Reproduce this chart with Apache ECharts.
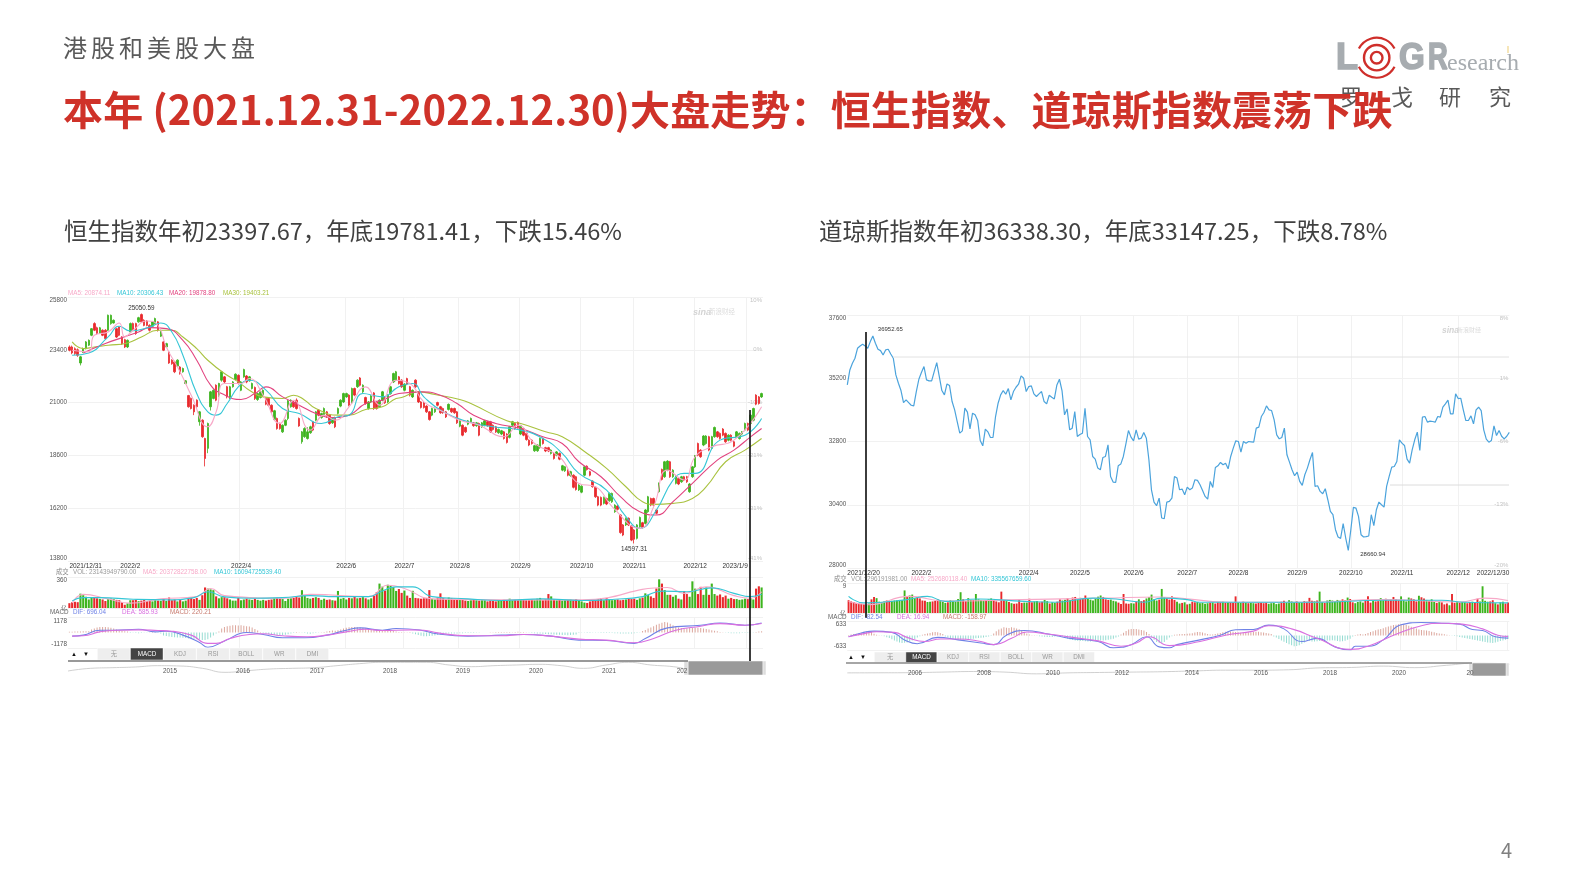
<!DOCTYPE html>
<html>
<head>
<meta charset="utf-8">
<script src="https://cdn.jsdelivr.net/npm/echarts@6/dist/echarts.min.js"></script>
<style>
html,body{margin:0;padding:0;background:#fff;}
#main{position:absolute;left:0;top:0;width:1587px;height:892px;filter:blur(0.3px);}
.t{position:absolute;white-space:nowrap;font-family:"Noto Sans CJK SC","Noto Sans",sans-serif;}
</style>
</head>
<body>
<div id="main"></div>
<div class="t" style="left:1340px;top:81px;line-height:28px;font-size:22px;color:#595959;">罗</div>
<div class="t" style="left:1391px;top:81px;line-height:28px;font-size:22px;color:#595959;">戈</div>
<div class="t" style="left:1439px;top:81px;line-height:28px;font-size:22px;color:#595959;">研</div>
<div class="t" style="left:1489px;top:81px;line-height:28px;font-size:22px;color:#595959;">究</div>
<div class="t" style="left:63px;top:29px;line-height:36px;font-size:24px;letter-spacing:4px;color:#595959;">港股和美股大盘</div>
<div class="t" style="left:63px;top:82px;line-height:52px;font-size:40px;letter-spacing:0.13px;font-weight:700;color:#cf3229;">本年 (2021.12.31-2022.12.30)大盘走势：恒生指数、道琼斯指数震荡下跌</div>
<div class="t" style="left:64px;top:213px;line-height:34px;font-size:23.5px;color:#404040;">恒生指数年初23397.67，年底19781.41，下跌15.46%</div>
<div class="t" style="left:819px;top:213px;line-height:34px;font-size:23.5px;color:#404040;">道琼斯指数年初36338.30，年底33147.25，下跌8.78%</div>
<div class="t" style="left:1501px;top:836px;line-height:28px;font-size:20px;color:#808080;">4</div>
<script>
// 恒生指数 日K [open, close, low, high]
var leftCandles = [
[23530,23380,23330,23600],[23530,23260,23200,23590],[23450,23230,23170,23510],[23400,23150,23080,23460],[22800,23080,22690,23120],
[23300,23450,23260,23500],[23450,23760,23420,23800],[23610,23830,23570,23870],[24060,24360,24020,24390],[24590,24290,24250,24650],
[24400,24140,24080,24450],[24170,24400,24130,24440],[24290,24060,24020,24330],[24290,23910,23860,24340],[24290,24970,24250,25000],
[24590,24970,24540,25000],[24620,24740,24590,24780],[24360,23980,23940,24400],[24440,24060,24020,24480],[23980,23680,23620,24020],
[23860,23530,23480,23900],[23530,23830,23480,23870],[24210,24590,24160,24640],[24590,24320,24260,24640],[24590,24140,24080,24630],
[24670,24860,24630,24900],[25000,24670,24620,25050],[24740,24510,24470,24790],[24710,24510,24470,24750],[24510,24290,24230,24560],
[24470,24670,24440,24710],[24590,24820,24560,24860],[24670,24290,24230,24700],[24020,24210,23980,24250],[23760,23380,23340,23800],
[23530,23680,23490,23720],[23300,22800,22760,23340],[22930,22770,22720,22970],[22850,22400,22340,22900],[22660,22930,22620,22970],
[22620,22320,22270,22660],[22400,22550,22360,22590],[21870,21990,21840,22020],[21320,20810,20770,21350],[21190,20730,20690,21230],
[20880,20580,20430,20920],[21110,20810,20760,21150],[20130,20580,19950,20620],[20200,19450,19400,20240],[19370,18460,18100,19400],
[18920,20050,18700,20090],[20810,21490,20640,21530],[21190,21560,21150,21600],[21790,21110,21060,21830],[21340,21870,21250,21900],
[22020,22400,21950,22440],[22170,21940,21890,22210],[21720,21260,21190,21760],[21260,21720,21150,21760],[21720,21940,21680,21980],
[22050,22290,22010,22330],[22240,21870,21820,22280],[21560,21940,21520,21980],[22170,22500,22130,22540],[22210,21940,21880,22250],
[21990,22170,21950,22210],[21640,21870,21600,21910],[21690,21190,21120,21730],[21140,21410,21080,21450],[21230,21490,21190,21530],
[21340,21560,21290,21600],[21190,20930,20880,21230],[21190,20880,20830,21230],[20880,20580,20530,20920],[20230,20630,20180,20670],
[20280,19820,19770,20320],[20050,19820,19770,20090],[19670,19970,19620,20010],[19970,20200,19930,20240],[20280,21080,20200,21120],
[20810,21110,20770,21150],[21030,20810,20760,21070],[21110,20730,20680,21190],[20280,19940,19900,20320],[19220,19670,19130,19710],
[19450,19820,19400,19880],[19370,19670,19320,19880],[19630,19900,19580,19950],[20130,19750,19700,20170],[20200,20580,20150,20620],
[20660,20430,20380,20700],[20320,20500,20270,20540],[20430,20730,20380,20780],[20580,20350,20300,20620],[20430,20050,19990,20470],
[20080,20280,20030,20320],[20320,19900,19840,20360],[20510,20730,20460,20780],[20840,21110,20790,21150],[21030,21410,20980,21450],
[21260,21410,21220,21450],[21340,20880,20830,21380],[20990,21640,20950,21680],[21640,21340,21290,21680],[21720,22020,21670,22060],
[22120,21790,21740,22160],[21490,21790,21440,21830],[21230,20960,20900,21270],[20730,21030,20680,21070],[21030,21300,20980,21340],
[21440,20730,20670,21480],[21030,20730,20680,21070],[20810,21110,20760,21150],[21110,21490,21060,21530],[21230,20990,20940,21270],
[21030,21340,20980,21380],[21410,21720,21360,21760],[21940,22320,21890,22360],[22020,22400,21970,22440],[22170,21870,21820,22210],
[22020,21720,21670,22060],[21560,21840,21510,21880],[22090,21840,21790,22130],[21720,21340,21280,21760],[21260,21560,21210,21600],
[22020,21720,21670,22060],[21490,21030,20980,21530],[21030,20780,20730,21070],[20990,20780,20730,21030],[20840,20580,20530,20880],
[20580,20230,20180,20620],[20430,20730,20380,20770],[20580,20730,20530,20770],[21000,20880,20830,21040],[20810,20540,20490,20850],
[20730,20540,20490,20770],[20580,20350,20300,20620],[20690,20920,20640,20960],[20730,20580,20530,20770],[20730,20540,20490,20770],
[20580,20080,20030,20620],[19930,20200,19880,20240],[19970,19520,19470,20010],[19870,19670,19620,19910],[20020,20170,19970,20210],
[20130,20280,20080,20320],[20080,19950,19900,20120],[19950,20080,19900,20120],[20050,19520,19470,20090],[19900,20080,19850,20120],
[19970,20170,19920,20210],[20130,19950,19900,20170],[20130,19670,19620,20170],[19970,19780,19730,20010],[19900,19670,19620,19940],
[19630,19780,19580,19820],[19570,19720,19520,19760],[19670,19370,19320,19710],[19570,19190,19140,19610],[19420,19900,19370,19940],
[19970,20130,19920,20170],[20050,19820,19770,20090],[20100,19870,19820,20140],[19570,19950,19520,19990],[19820,19520,19470,19860],
[19600,19320,19270,19640],[19290,19070,19020,19330],[19290,19140,19090,19330],[18810,19040,18760,19080],[18810,19070,18760,19110],
[18950,19370,18900,19410],[19370,19140,19090,19410],[18950,18800,18750,18990],[18950,18800,18750,18990],[18690,18840,18640,18880],
[18690,18460,18410,18730],[18610,18760,18560,18800],[18690,18430,18380,18730],[17930,18130,17880,18170],[17900,18080,17850,18120],
[17930,17700,17650,17970],[17680,17860,17630,17900],[17700,17150,17100,17740],[17630,17050,17000,17670],[17030,17250,16980,17290],
[16930,17200,16880,17240],[17700,18080,17650,18120],[18110,17960,17910,18150],[17860,17700,17650,17900],[17430,17180,17130,17470],
[17150,16720,16670,17190],[16720,16340,16290,16760],[16690,16340,16290,16730],[16420,16690,16370,16730],[16640,16390,16340,16680],
[16540,16870,16490,16910],[16490,16870,16440,16910],[16040,16340,15990,16380],[16300,16150,16100,16340],[15890,15090,15040,15930],
[15440,14980,14930,15480],[15440,15740,15390,15780],[15740,15440,15390,15780],[15390,14750,14700,15430],[15210,14790,14597,15250],
[14830,15440,14780,15480],[15360,15780,15310,15820],[15540,15330,15280,15580],[15510,16120,15460,16160],[16040,16720,15990,16760],
[16640,16340,16290,16680],[16640,16340,16290,16680],[16120,15970,15920,16160],[16950,17330,16900,17370],[17960,17510,17460,18000],
[17630,18310,17580,18350],[17930,18340,17880,18380],[18310,17630,17580,18350],[17630,17930,17580,17970],[17330,17660,17280,17700],
[17550,17300,17250,17590],[17400,17630,17350,17670],[17630,17480,17430,17670],[17630,17400,17350,17670],[16950,17300,16900,17340],
[17630,18080,17580,18120],[18080,18580,18030,18620],[19140,18610,18560,19180],[18840,18540,18490,18880],[19070,19480,19020,19520],
[19140,19480,19090,19520],[19450,18840,18790,19490],[18920,19450,18870,19490],[19450,19870,19400,19910],[19670,19450,19400,19710],
[19600,19370,19320,19640],[19800,19520,19470,19840],[19600,19220,19170,19640],[19290,19520,19240,19560],[19520,19290,19240,19560],
[19220,19020,18970,19260],[19450,19670,19400,19710],[19370,19600,19320,19640],[19570,19670,19520,19710],[19750,20050,19700,20090],
[20050,19750,19700,20090],[20050,20430,20000,20470],[20200,20730,20150,20770],[21340,20930,20880,21380],[21260,20960,20910,21300],
[21260,21410,21210,21450]
];
// 均线 [日序号, 值]
var leftMa5 = [[1,23379],[7,23304],[9,24060],[14,24211],[18,24620],[20,23984],[23,24287],[28,24711],[32,24514],[35,23530],[40,22396],[44,21337],[50,19899],[53,20580],[56,21866],[62,21866],[65,22093],[70,21337],[76,20051],[81,21110],[87,19748],[92,20429],[96,20202],[101,20807],[107,21715],[112,20883],[118,22018],[123,21866],[128,21034],[135,20580],[141,20202],[148,19975],[157,19445],[162,19975],[168,19143],[177,18538],[184,17327],[190,17176],[196,16268],[206,15285],[211,16268],[216,17932],[222,17479],[226,18538],[232,18992],[240,19294],[250,20807]];
var leftMa10 = [[1,23152],[7,23258],[14,23984],[18,24469],[22,24257],[29,24438],[33,24620],[37,24211],[41,23152],[46,21412],[50,20580],[53,20429],[57,20958],[61,21715],[65,22018],[71,21564],[77,20731],[83,20505],[91,20051],[97,20353],[101,20429],[106,21412],[113,21261],[119,21715],[124,21866],[128,21261],[135,20580],[144,20126],[153,19899],[162,19778],[171,19370],[178,18689],[184,17781],[194,17025],[201,15814],[206,15285],[212,16117],[218,17479],[222,17781],[226,17781],[235,19294],[244,19521],[250,20278]];
var leftMa20 = [[5,23258],[13,23682],[19,23954],[25,24211],[29,24408],[35,24363],[41,23833],[46,22925],[51,21791],[55,21412],[62,21140],[67,21412],[71,21715],[77,21261],[83,20883],[89,20505],[95,20323],[101,20429],[107,20958],[113,21110],[119,21412],[127,21488],[134,21337],[140,20958],[146,20429],[154,20051],[163,19824],[171,19445],[178,19143],[184,18311],[192,17630],[199,16722],[206,16041],[212,15890],[218,16495],[225,17327],[234,18386],[240,18840],[246,19445],[250,19824]];
var leftMa30 = [[1,23757],[5,23455],[9,23530],[14,23606],[21,23712],[26,23984],[32,24287],[37,24287],[41,23984],[46,23455],[50,22925],[56,22320],[61,21942],[65,21564],[70,21261],[77,21185],[81,21337],[85,21110],[89,20731],[97,20429],[101,20429],[107,20686],[113,20807],[118,21185],[120,21231],[126,21488],[132,21367],[141,21140],[145,20958],[158,20172],[163,20051],[172,19672],[178,19445],[187,18689],[194,18008],[201,17176],[207,16495],[211,16374],[218,16419],[225,16646],[230,17176],[237,18311],[244,18840],[250,19370]];
// 成交量(亿)
var leftVolume = [62,75,80,75,185,165,145,110,140,130,125,118,110,90,115,122,115,105,100,75,42,60,100,100,105,88,95,105,90,95,85,100,95,92,120,90,135,100,110,85,105,85,95,120,130,115,130,105,165,265,250,240,230,150,125,140,140,125,110,95,95,130,100,110,120,110,105,120,105,95,105,95,105,110,130,130,120,115,90,120,125,130,145,135,230,160,130,120,130,140,130,105,120,105,110,100,95,220,120,130,110,130,125,150,125,130,140,125,110,125,155,205,315,275,225,300,285,270,220,245,195,225,160,130,222,130,125,120,125,130,231,120,110,135,189,130,110,135,125,120,115,110,105,95,90,100,105,100,95,100,100,85,95,90,85,100,95,105,95,120,100,105,100,105,110,100,100,110,100,120,130,100,115,180,150,115,100,105,95,100,105,110,100,115,100,85,70,65,85,90,110,115,125,100,130,115,100,105,110,100,105,110,120,115,120,105,125,135,189,170,150,130,252,370,315,231,170,170,145,165,120,110,218,180,145,344,250,180,273,170,265,170,315,180,160,175,140,160,120,130,115,115,105,110,120,115,130,110,250,280,265];
var leftVolMa5 = [[1,63],[5,176],[14,118],[22,63],[33,118],[46,147],[51,252],[56,160],[78,126],[87,176],[108,147],[115,294],[121,252],[131,118],[156,105],[185,105],[216,265],[222,189],[230,273],[240,160],[246,126],[250,210]];
var leftVolMa10 = [[1,92],[5,134],[11,134],[23,113],[35,105],[45,134],[50,210],[56,143],[65,126],[77,134],[87,160],[96,147],[108,147],[113,218],[118,273],[124,273],[131,147],[144,118],[156,97],[171,118],[185,97],[197,113],[207,147],[214,218],[223,210],[232,260],[240,189],[246,147],[250,176]];
// MACD
var leftDif = [[1,-371],[5,-270],[11,236],[16,236],[25,337],[31,67],[35,135],[41,-270],[47,-1011],[50,-1500],[56,-876],[64,0],[70,-202],[77,-539],[85,-539],[93,-270],[100,236],[105,472],[113,236],[118,404],[127,236],[132,-101],[144,-371],[156,-270],[164,-202],[174,-371],[184,-775],[194,-809],[204,-1112],[208,-607],[216,472],[228,741],[235,977],[244,741],[250,977]];
var leftDea = [[1,-371],[5,-337],[11,67],[17,236],[25,270],[32,202],[37,135],[44,-270],[50,-1112],[53,-1112],[58,-607],[65,-202],[70,-135],[77,-337],[86,-438],[93,-270],[100,67],[107,337],[113,202],[123,270],[128,236],[133,-34],[144,-337],[156,-337],[164,-202],[174,-371],[184,-674],[194,-775],[204,-1045],[211,-607],[219,236],[228,640],[235,910],[244,741],[250,910]];
var leftHist = [70,80,90,100,110,120,130,140,300,400,500,550,570,560,540,480,420,300,200,150,120,100,-40,-30,-60,-80,-50,-30,-20,30,40,20,-60,-100,-300,-350,-400,-450,-480,-500,-520,-540,-560,-600,-620,-650,-680,-720,-770,-775,-700,-500,-300,-100,100,400,550,640,700,740,730,720,740,700,650,600,500,350,200,60,-50,-120,-180,-220,-260,-270,-260,-250,-220,-180,-100,-60,50,30,-30,-60,-100,-120,-80,-50,-20,30,60,90,150,200,180,240,300,400,480,540,570,560,540,520,480,430,400,350,300,280,250,220,250,200,180,150,100,60,40,20,30,40,-100,-180,-260,-330,-370,-370,-350,-330,-300,-260,-200,-160,-130,-110,-100,-90,-90,-80,-70,-60,-60,-50,-40,-30,-20,-10,-10,10,20,30,40,50,60,60,50,40,20,50,70,60,40,20,-30,-50,-70,-90,-110,-130,-150,-170,-190,-210,-230,-240,-250,-260,-270,-260,-240,-200,-60,-30,-20,-50,-40,-30,-20,-30,-50,-60,-50,-40,-60,-70,-80,-90,-100,-110,-100,-90,-70,-40,-20,150,250,400,520,650,780,900,1000,1080,1020,900,750,620,520,450,420,430,450,470,480,480,450,400,350,300,240,180,120,60,30,-30,-50,-70,-70,-80,-70,-60,-50,-40,-30,-20,60,100,130];
var leftNav = [22340,25310,26060,26800,28290,27920,25310,20850,22710,24570,25310,26060,28290,30520,32010,32010,32010,29040,27180,28290,29040,29780,28290,25310,29040,32010,29040,27180,23460,25310,20850,21600];
var leftTickIdx = [0,22,62,100,121,141,163,185,204,226,245];
var leftTickText = ['2021/12/31','2022/2','2022/4','2022/6','2022/7','2022/8','2022/9','2022/10','2022/11','2022/12','2023/1/9'];
var leftPct = ['-41%','-31%','-21%','-10%','0%','10%'];
var leftNavYears = ['2015','2016','2017','2018','2019','2020','2021','202'];

// 道琼斯指数 收盘
var rightClose = [34948,35516,35769,35958,36337,36425,36489,36425,36337,36590,36805,36526,36299,36249,36084,36274,36299,36122,35958,35327,35011,34733,34278,34379,34278,34177,34152,34695,35162,35415,35642,35137,35099,35099,35453,35794,35264,34733,34569,34986,34922,34316,33999,33558,33116,33205,34064,33912,33281,33874,33811,33596,32838,32637,33268,33167,32952,32952,33748,34253,34569,34733,34594,34809,34379,34695,34859,34973,35289,35200,34695,34885,34910,34607,34506,34607,34695,34316,34228,34556,34480,34417,34948,35162,34733,33811,34038,33243,33306,33937,32990,33066,33116,34064,32990,32864,32232,32131,31790,31727,32194,32232,32674,31474,31260,31247,31879,31942,32232,32712,33217,32965,32826,33243,32889,32927,33142,32927,32106,30969,30502,30363,30653,29896,29870,30502,30527,30653,31474,31411,30969,30994,30780,31070,30969,31032,31348,31323,31159,30944,30717,30616,31285,31058,31815,31879,32005,31916,31979,31765,32232,32548,32826,32801,32396,32801,32738,32801,32788,32775,33306,33344,33748,33900,34152,33999,33975,33621,33053,32902,32952,33306,32296,32018,31727,31500,31639,31285,31134,31538,31790,32106,32384,31096,31121,30906,30818,31007,30590,30148,30022,29453,29176,29125,29681,29138,28671,29453,30300,30275,29959,29264,29176,29188,29214,30022,29605,30211,30502,30401,30312,31096,31474,31828,31853,32043,32864,32738,32650,32131,31979,32485,32864,33154,32460,33723,33748,33533,33571,33558,33533,33748,33723,34101,34228,34367,33849,33849,34607,34430,34442,33999,33596,33596,33773,33470,33999,34101,33975,33243,32889,32775,32838,33394,33028,33217,33000,32900,33000,33147];
var rightVolume = [4.3,3.9,3.7,3.4,3.2,3.1,3.0,2.9,3.2,4.6,5.4,5.0,3.8,3.6,3.9,4.2,4.0,4.1,4.2,4.3,4.4,4.3,7.6,5.6,5.9,6.2,5.0,5.3,4.9,4.2,
4.1,3.7,3.8,3.9,4.1,4.6,4.2,3.8,3.4,3.6,4.3,4.1,3.9,4.7,7.0,4.6,4.0,5.0,4.4,4.4,
6.4,4.6,4.4,4.2,4.3,4.6,4.9,4.4,3.9,3.6,7.2,4.4,4.0,3.7,3.3,3.1,3.2,4.5,3.4,3.5,
3.5,4.8,3.6,3.9,4.0,3.6,3.8,4.4,4.0,3.2,3.6,3.4,3.8,4.6,4.2,4.5,5.0,4.4,5.2,5.4,
4.6,5.1,5.0,5.9,5.0,4.5,4.2,4.8,5.5,5.9,5.4,4.6,4.4,4.5,4.1,3.9,3.5,3.0,6.4,3.2,
3.1,3.3,3.2,3.9,4.6,4.0,4.3,4.9,5.4,6.2,4.6,4.2,4.5,8.1,5.3,5.0,4.5,5.6,4.4,3.8,
3.2,3.4,3.6,2.9,3.1,3.8,3.6,3.7,3.3,3.4,3.1,3.3,3.5,3.6,3.2,3.7,3.6,3.8,3.4,3.5,
3.7,3.5,5.6,3.7,3.4,3.8,3.5,3.3,3.4,3.3,3.2,3.4,3.5,3.3,3.5,3.1,3.3,3.4,3.0,3.2,
3.8,4.1,3.6,4.3,3.9,3.7,3.9,3.6,3.7,4.0,3.8,5.1,4.1,4.0,4.2,7.2,3.7,3.4,4.2,4.4,
4.2,4.0,4.4,4.1,4.6,4.3,5.2,4.7,3.6,3.3,3.7,3.9,3.5,4.1,5.6,3.5,4.1,3.9,4.0,5.0,
4.3,4.8,4.2,4.6,5.4,4.7,4.3,5.6,4.4,3.9,5.2,4.9,4.6,3.9,5.8,5.3,4.9,4.4,4.1,4.6,
3.8,3.4,3.9,3.6,2.9,3.2,2.6,6.4,3.4,3.8,3.5,3.7,3.6,3.3,3.7,3.8,3.4,4.8,3.9,9.0,
4.1,3.8,3.9,4.3,3.3,2.9,3.6,3.8,3.2,3.5];
var rightVolMa5 = [[0,3.9],[8,2.8],[24,5.6],[38,4.0],[68,4.5],[100,5.0],[122,5.4],[150,3.6],[178,3.6],[210,4.5],[240,3.7],[250,5.0],[259,4.2]];
var rightVolMa10 = [[0,5.6],[6,3.4],[23,4.5],[31,5.6],[38,3.9],[51,4.7],[69,3.9],[81,3.6],[96,5.0],[105,4.7],[116,3.6],[123,5.0],[133,4.5],[138,3.6],[157,3.6],[184,3.6],[210,4.3],[233,4.3],[242,3.6],[259,3.4]];
var rightDif = [[0,-72],[5,145],[10,253],[17,181],[22,-253],[27,-471],[35,-109],[43,-253],[52,-434],[57,-525],[62,18],[69,290],[79,72],[87,-163],[98,-344],[104,-706],[111,-525],[117,-72],[122,-652],[126,-706],[129,-525],[138,-253],[146,18],[152,326],[159,344],[165,597],[171,380],[178,-344],[184,-163],[191,-652],[197,-833],[199,-615],[204,-615],[210,-253],[217,615],[225,742],[233,706],[240,652],[245,344],[249,290],[254,-72],[259,-150]];
var rightDea = [[0,-72],[6,109],[11,217],[18,181],[23,-109],[30,-344],[36,-199],[43,-199],[52,-344],[57,-525],[64,-163],[70,199],[79,72],[88,-109],[98,-308],[107,-615],[113,-434],[118,-72],[126,-579],[138,-344],[148,18],[159,253],[165,561],[174,380],[184,-163],[197,-796],[204,-615],[215,72],[225,561],[233,706],[241,652],[249,380],[255,18],[259,-50]];
var rightHist = [30,60,80,100,120,160,220,250,260,200,100,40,10,-20,-50,-100,-150,-220,-280,-340,-400,-434,-420,-400,-350,-280,-200,-120,-40,40,80,120,150,180,200,190,150,80,-60,-120,-180,-220,-250,-260,-250,-240,-230,-220,-200,-180,-160,-140,-130,-110,-80,-60,-30,120,250,340,400,470,450,430,470,440,400,360,300,220,120,60,20,10,-20,-40,-60,-70,-80,-90,-80,-60,-40,-20,-60,-120,-180,-230,-260,-280,-300,-310,-320,-330,-344,-340,-330,-320,-300,-290,-280,-270,-240,-220,-180,-120,-60,60,160,260,340,380,370,380,350,320,280,200,80,-100,-250,-380,-434,-434,-380,-250,-120,-40,40,60,70,80,90,100,110,130,170,200,200,170,130,90,60,60,80,110,150,190,220,230,230,220,200,180,160,160,170,180,190,200,210,210,190,170,150,120,80,-60,-120,-200,-280,-360,-430,-500,-560,-615,-600,-560,-480,-400,-250,-300,-344,-340,-330,-320,-300,-290,-280,-280,-270,-290,-320,-344,-330,-300,-250,-180,-60,30,60,80,60,90,150,200,240,300,340,380,420,470,520,560,600,620,640,650,650,600,560,500,460,400,340,320,300,280,260,220,180,150,120,100,70,40,20,-20,-30,-50,-80,-110,-140,-170,-200,-230,-260,-290,-320,-350,-380,-400,-420,-434,-400,-360,-320,-280,-240,-200];
var rightNav = [10500,10700,11000,12500,14000,12500,8000,10500,11500,12500,13500,15500,17500,17500,18500,23500,24500,28000,24000,30000,36000,33000];
var rightTickIdx = [0,29,71,91,112,133,153,176,197,217,239,259];
var rightTickText = ['2021/12/20','2022/2','2022/4','2022/5','2022/6','2022/7','2022/8','2022/9','2022/10','2022/11','2022/12','2022/12/30'];
var rightPct = ['-20%','-13%','-6%','1%','8%'];
var rightNavYears = ['2006','2008','2010','2012','2014','2016','2018','2020','20'];

var RED = '#e8282c', GREEN = '#3db41e', HIST_UP = '#dca79d', HIST_DOWN = '#96dcd2';
var MA5_C = '#f7a9c8', MA10_C = '#35c6d6', MA20_C = '#e2437f', MA30_C = '#a9c23f';
var DIF_C = '#6f82e6', DEA_C = '#d96fe0', FONT = 'Liberation Sans, Arial, sans-serif', GRID_C = '#f1f1f1';

function seq(n) {
    var a = [];
    for (var i = 0; i < n; i++) a.push(i);
    return a;
}
function plainNum(v) { return '' + v; }
// x轴 只在月份位置画线和标签
function xAxisFor(gridIndex, n, tickIdx, tickText, showLabel) {
    return {
        type: 'category', gridIndex: gridIndex, data: seq(n),
        axisLine: {show: false}, axisTick: {show: false},
        axisLabel: {
            show: !!showLabel, color: '#333', fontSize: 6.5, fontFamily: FONT, margin: 2,
            alignMinLabel: 'left', alignMaxLabel: 'right',
            interval: function (i) { return tickIdx.indexOf(i) >= 0; },
            formatter: function (v, i) { return tickText[tickIdx.indexOf(i)] || ''; }
        },
        splitLine: {show: true, showMinLine: false, showMaxLine: false, lineStyle: {color: GRID_C, width: 1},
            interval: function (i) { return tickIdx.indexOf(i) > 0; }}
    };
}
function plainX(gridIndex, n) {
    return {type: 'category', gridIndex: gridIndex, data: seq(n), show: false, boundaryGap: false};
}
// 量能/MACD 面板y轴
function panelY(gridIndex, min, max, values, names) {
    return {
        type: 'value', gridIndex: gridIndex, min: min, max: max, interval: max - min,
        axisLine: {show: false}, axisTick: {show: false},
        axisLabel: {color: '#555', fontSize: 6.3, fontFamily: FONT, margin: 1, customValues: values,
            formatter: function (v) { return names[values.indexOf(v)]; }},
        splitLine: {show: true, lineStyle: {color: GRID_C}}
    };
}
function priceY(gridIndex, min, max) {
    return {type: 'value', gridIndex: gridIndex, min: min, max: max, interval: 2400,
        axisLine: {show: false}, axisTick: {show: false},
        axisLabel: {color: '#555', fontSize: 6.3, fontFamily: FONT, margin: 1, formatter: plainNum,
            verticalAlignMinLabel: 'bottom', verticalAlignMaxLabel: 'top'},
        splitLine: {lineStyle: {color: GRID_C}}};
}
function pctY(gridIndex, min, max, names) {
    return {type: 'value', gridIndex: gridIndex, min: min, max: max, interval: 2400, position: 'right',
        axisLine: {show: false}, axisTick: {show: false}, splitLine: {show: false},
        axisLabel: {inside: true, color: '#c4c4c4', fontSize: 6, fontFamily: FONT, margin: 1,
            verticalAlignMinLabel: 'bottom', verticalAlignMaxLabel: 'top',
            formatter: function (v, i) { return names[i]; }}};
}
function lineOn(x, y, data, color, width) {
    return {type: 'line', xAxisIndex: x, yAxisIndex: y, data: data, smooth: true, showSymbol: false,
        silent: true, lineStyle: {color: color, width: width || 1.1}, itemStyle: {color: color}};
}
function txt(x, y, text, color, size, align, extra) {
    var st = {x: x, y: y, text: text, fill: color, font: (extra || '') + ' ' + (size || 6.3) + 'px ' + FONT + ',"Noto Sans CJK SC"',
        textAlign: align || 'left', textVerticalAlign: 'middle'};
    return {type: 'text', silent: true, z: 20, style: st};
}
// logo 字母 横向压缩 描边加粗
function logoLetter(x, text, sx) {
    return {type: 'text', silent: true, z: 20, x: x, y: 59, scaleX: sx,
        style: {x: 0, y: 0, text: text, fill: '#a7acb0', stroke: '#a7acb0', lineWidth: 1.6, font: 'bold 36px ' + FONT, textVerticalAlign: 'middle'}};
}
function hline(x1, y1, x2, y2, color, w) {
    return {type: 'line', silent: true, z: 15, shape: {x1: x1, y1: y1, x2: x2, y2: y2}, style: {stroke: color, lineWidth: w || 1}};
}
function box(x, y, w, h, fill) {
    return {type: 'rect', silent: true, z: 10, shape: {x: x, y: y, width: w, height: h}, style: {fill: fill, stroke: '#fff', lineWidth: 0.5}};
}
function ring(cx, cy, r, a, b, w) {
    return {type: 'arc', silent: true, z: 12, shape: {cx: cx, cy: cy, r: r, startAngle: a, endAngle: b},
        style: {stroke: '#cf2e2a', lineWidth: w, fill: 'none'}};
}
// 指标切换按钮
function toolbar(xs, y, h, w, arrowX) {
    var names = ['无', 'MACD', 'KDJ', 'RSI', 'BOLL', 'WR', 'DMI'], out = [];
    names.forEach(function (n, i) {
        out.push(box(xs + i * w, y, w - 0.4, h, i == 1 ? '#444' : '#eee'));
        out.push(txt(xs + i * w + w / 2, y + h / 2, n, i == 1 ? '#fff' : '#999', 6.3, 'center'));
    });
    out.push(txt(arrowX, y + h / 2, '▲', '#111', 6, 'center'));
    out.push(txt(arrowX + 12, y + h / 2, '▼', '#111', 6, 'center'));
    return out;
}

var graphics = [
    // 左图图例
    txt(68, 293, 'MA5: 20874.11', MA5_C), txt(117, 293, 'MA10: 20306.43', MA10_C),
    txt(169, 293, 'MA20: 19878.80', MA20_C), txt(223, 293, 'MA30: 19403.21', MA30_C),
    txt(56, 572, '成交', '#888'), txt(73, 572, 'VOL: 23143949790.00', '#999'),
    txt(143, 572, 'MA5: 20372822758.00', MA5_C), txt(214, 572, 'MA10: 16094725539.40', MA10_C),
    txt(50, 612, 'MACD', '#666'), txt(73, 612, 'DIF: 696.04', DIF_C),
    txt(122, 612, 'DEA: 585.93', DEA_C), txt(170, 612, 'MACD: 220.21', '#c87a6e'),
    txt(693, 313, 'sina', '#d4d4d4', 9, 'left', 'italic bold'), txt(709, 312, '新浪财经', '#dcdcdc', 6.5),
    // 右图图例
    txt(834, 579, '成交', '#888'), txt(851, 579, 'VOL: 296191981.00', '#999'),
    txt(911, 579, 'MA5: 252680118.40', MA5_C), txt(971, 579, 'MA10: 335567659.60', MA10_C),
    txt(828, 617, 'MACD', '#666'), txt(851, 617, 'DIF: -82.54', DIF_C),
    txt(897, 617, 'DEA: 16.94', DEA_C), txt(943, 617, 'MACD: -158.97', '#c87a6e'),
    txt(1442, 331, 'sina', '#d4d4d4', 8.5, 'left', 'italic bold'), txt(1457, 330, '新浪财经', '#dcdcdc', 6),
    // 图上的残留横线
    hline(893, 357, 1509, 357, '#e2e2e2'), hline(1390, 485, 1509, 485, '#dcdcdc'),
    // 导航条
    hline(68, 661, 688, 661, '#777', 1.4), hline(846, 663, 1472, 663, '#888', 1.6),
    box(688, 661, 75, 14, '#9a9a9a'), box(1472, 663, 36, 13, '#9a9a9a'),
    box(684, 661, 4, 14, '#ddd'), box(763, 661, 3, 14, '#ddd'),
    box(1469, 663, 3, 13, '#ddd'), box(1506, 663, 3, 13, '#ddd'),
    // 竖线
    hline(750, 410, 750, 661, '#1a1a1a', 1.7), hline(866, 332, 866, 618, '#1a1a1a', 1.7),
    // logo
    logoLetter(1336, 'L', 1.0), logoLetter(1399, 'G', 0.92), logoLetter(1428, 'R', 0.76),
    {type: 'text', silent: true, z: 20, style: {x: 1447, y: 76, text: 'esearch', fill: '#a7acb0', font: '24px Liberation Serif', textVerticalAlign: 'bottom'}},
    ring(1376.7, 57.7, 20, Math.PI * 1.15, Math.PI * 1.85, 2.2), ring(1376.7, 57.7, 20, Math.PI * 0.15, Math.PI * 0.85, 2.2),
    ring(1376.7, 57.7, 12.7, 0, Math.PI * 2, 2.4), ring(1376.7, 57.7, 5.8, 0, Math.PI * 2, 2.4),
    hline(1508, 46, 1508, 53, '#f1d58a', 1.2)
];
graphics = graphics.concat(toolbar(97.3, 648, 12, 33.1, 74), toolbar(874.3, 652, 10.5, 31.5, 851));
var lx = [170, 243, 317, 390, 463, 536, 609, 682];
leftNavYears.forEach(function (y, i) { graphics.push(txt(lx[i], 671, y, '#555', 6.3, 'center')); });
var rx = [915, 984, 1053, 1122, 1192, 1261, 1330, 1399, 1470];
rightNavYears.forEach(function (y, i) { graphics.push(txt(rx[i], 673, y, '#555', 6.3, 'center')); });

var option = {
    backgroundColor: '#fff',
    animation: false,
    graphic: graphics,
    grid: [
        {left: 68, width: 695, top: 297, height: 264},
        {left: 68, width: 695, top: 577, height: 31},
        {left: 68, width: 695, top: 617, height: 31},
        {left: 68, width: 695, top: 661, height: 13},
        {left: 847.3, width: 662, top: 315, height: 253},
        {left: 847.3, width: 662, top: 583, height: 30},
        {left: 847.3, width: 662, top: 621, height: 29},
        {left: 847.3, width: 662, top: 663, height: 12}
    ],
    xAxis: [
        xAxisFor(0, leftCandles.length, leftTickIdx, leftTickText, true),
        xAxisFor(1, leftCandles.length, leftTickIdx, leftTickText),
        xAxisFor(2, leftCandles.length, leftTickIdx, leftTickText),
        plainX(3, leftNav.length),
        Object.assign(xAxisFor(4, rightClose.length, rightTickIdx, rightTickText, true), {boundaryGap: false}),
        xAxisFor(5, rightClose.length, rightTickIdx, rightTickText),
        xAxisFor(6, rightClose.length, rightTickIdx, rightTickText),
        plainX(7, rightNav.length)
    ],
    yAxis: [
        priceY(0, 13800, 25800),
        pctY(0, 13800, 25800, leftPct),
        panelY(1, 0, 400, [0, 360], ['亿', '360']),
        panelY(2, -1582, 1582, [-1178, 1178], ['-1178', '1178']),
        {type: 'value', gridIndex: 3, min: 19000, max: 33500, show: false},
        priceY(4, 28000, 37600),
        pctY(4, 28000, 37600, rightPct),
        panelY(5, 0, 10.1, [0, 9], ['亿', '9']),
        panelY(6, -832, 832, [-633, 633], ['-633', '633']),
        {type: 'value', gridIndex: 7, min: 5000, max: 36000, show: false}
    ],
    series: [
        {type: 'candlestick', xAxisIndex: 0, yAxisIndex: 0, data: leftCandles, barWidth: 2, silent: true,
            itemStyle: {color: GREEN, color0: RED, borderColor: GREEN, borderColor0: RED, borderWidth: 0.8},
            markPoint: {symbol: 'circle', symbolSize: 0, silent: true, data: [
                {coord: [26, 25050], value: '25050.59', label: {position: 'top', distance: 2}},
                {coord: [204, 14597], value: '14597.31', label: {position: 'bottom', distance: 3}}
            ], label: {show: true, color: '#333', fontSize: 6.3, fontFamily: FONT, formatter: function (p) { return p.value; }}}},
        lineOn(0, 0, leftMa30, MA30_C), lineOn(0, 0, leftMa20, MA20_C),
        lineOn(0, 0, leftMa10, MA10_C), lineOn(0, 0, leftMa5, MA5_C),
        {type: 'bar', xAxisIndex: 1, yAxisIndex: 2, data: leftVolume, barWidth: 2.1, silent: true,
            itemStyle: {color: function (p) { var c = leftCandles[p.dataIndex]; return c[1] >= c[0] ? GREEN : RED; }}},
        lineOn(1, 2, leftVolMa5, MA5_C), lineOn(1, 2, leftVolMa10, MA10_C),
        {type: 'bar', xAxisIndex: 2, yAxisIndex: 3, data: leftHist, barWidth: 1, silent: true,
            itemStyle: {color: function (p) { return p.value >= 0 ? HIST_UP : HIST_DOWN; }}},
        lineOn(2, 3, leftDif, DIF_C), lineOn(2, 3, leftDea, DEA_C),
        lineOn(3, 4, leftNav, '#c4c4c4', 0.8),
        {type: 'line', xAxisIndex: 4, yAxisIndex: 5, data: rightClose, showSymbol: false, silent: true,
            lineStyle: {color: '#4ba3dc', width: 1.2}, itemStyle: {color: '#4ba3dc'},
            markPoint: {symbol: 'circle', symbolSize: 0, silent: true, data: [
                {coord: [10, 36952], value: '36952.65', label: {position: 'right', distance: 5, offset: [0, -3]}},
                {coord: [196, 28671], value: '28660.94', label: {position: 'right', distance: 12, offset: [0, 4]}}
            ], label: {show: true, color: '#333', fontSize: 6, fontFamily: FONT, formatter: function (p) { return p.value; }}}},
        {type: 'bar', xAxisIndex: 5, yAxisIndex: 7, data: rightVolume, barWidth: 1.9, silent: true,
            itemStyle: {color: function (p) { var i = p.dataIndex; return i > 0 && rightClose[i] < rightClose[i - 1] ? GREEN : RED; }}},
        lineOn(5, 7, rightVolMa5, MA5_C), lineOn(5, 7, rightVolMa10, MA10_C),
        {type: 'bar', xAxisIndex: 6, yAxisIndex: 8, data: rightHist, barWidth: 1, silent: true,
            itemStyle: {color: function (p) { return p.value >= 0 ? HIST_UP : HIST_DOWN; }}},
        lineOn(6, 8, rightDif, DIF_C), lineOn(6, 8, rightDea, DEA_C),
        lineOn(7, 9, rightNav, '#c4c4c4', 0.8)
    ]
};
var myChart = echarts.init(document.getElementById('main'));
myChart.setOption(option);
</script>
</body>
</html>
